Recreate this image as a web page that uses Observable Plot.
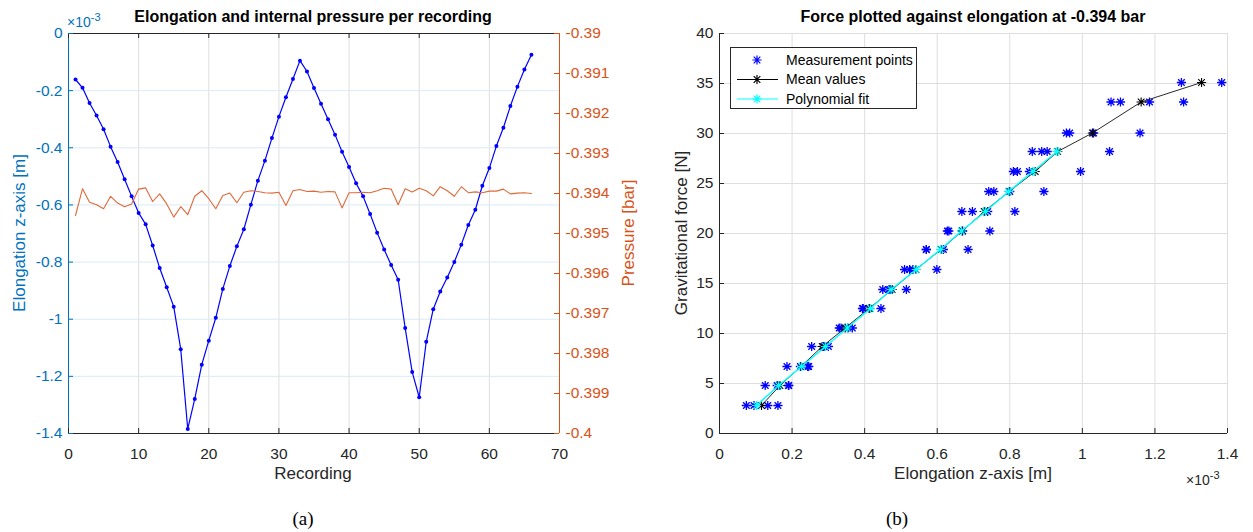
<!DOCTYPE html>
<html><head><meta charset="utf-8">
<script src="https://cdn.jsdelivr.net/npm/d3@7"></script>
<script src="https://cdn.jsdelivr.net/npm/@observablehq/plot@0.6"></script>
<style>
body{margin:0;background:#fff;}
#root{position:relative;width:1253px;height:532px;overflow:hidden;font-family:"Liberation Sans",Arial,sans-serif;color:#262626;}
.abs{position:absolute;white-space:nowrap;line-height:1;}
.c{transform:translate(-50%,-50%);}
.rot{transform:translate(-50%,-50%) rotate(-90deg);}
.panel{position:absolute;top:0;}
</style></head><body><div id="root"></div>
<script>
// ---------- data ----------
const recordings = d3.range(1, 67);
// elongation along z (x 1e-3 m)
const elongation = [-0.161,-0.190,-0.243,-0.287,-0.335,-0.396,-0.450,-0.510,-0.570,-0.628,
  -0.668,-0.742,-0.821,-0.888,-0.956,-1.105,-1.384,-1.279,-1.159,-1.075,
  -0.995,-0.894,-0.814,-0.745,-0.685,-0.599,-0.515,-0.445,-0.366,-0.291,
  -0.223,-0.159,-0.095,-0.133,-0.191,-0.246,-0.300,-0.354,-0.414,-0.467,
  -0.524,-0.570,-0.632,-0.697,-0.756,-0.810,-0.862,-1.031,-1.185,-1.273,
  -1.079,-0.965,-0.903,-0.854,-0.800,-0.739,-0.670,-0.617,-0.533,-0.471,
  -0.394,-0.330,-0.254,-0.186,-0.126,-0.074];
// internal pressure (bar)
const pressure = [-0.39455,-0.39388,-0.39422,-0.39428,-0.39438,-0.39407,-0.39424,-0.39433,-0.39426,-0.39389,
  -0.39386,-0.39420,-0.39401,-0.39426,-0.39459,-0.39433,-0.39453,-0.39407,-0.39393,-0.39413,
  -0.39438,-0.39405,-0.39399,-0.39423,-0.39397,-0.39393,-0.39395,-0.39398,-0.39399,-0.39397,
  -0.39430,-0.39393,-0.39390,-0.39395,-0.39394,-0.39397,-0.39395,-0.39396,-0.39436,-0.39398,
  -0.39398,-0.39397,-0.39398,-0.39393,-0.39387,-0.39389,-0.39428,-0.39388,-0.39396,-0.39387,
  -0.39393,-0.39406,-0.39383,-0.39393,-0.39407,-0.39383,-0.39398,-0.39396,-0.39398,-0.39394,
  -0.39394,-0.39389,-0.39401,-0.39399,-0.39398,-0.39400];
// load levels (N) and which level each recording was taken at
const forceLevels = [2.8,4.8,6.7,8.7,10.55,12.5,14.4,16.4,18.4,20.25,22.2,24.2,26.2,28.2,30.05,33.15,35.1];
const levelOfRecording = [1,2,3,4,5,6,7,8,9,10,11,12,13,14,15,16,17,16,15,14,13,12,11,10,9,8,7,6,5,4,3,2,1,
  1,2,3,4,5,6,7,8,9,10,11,12,13,14,15,16,17,16,15,14,13,12,11,10,9,8,7,6,5,4,3,2,1];
// polynomial fit (elongation x 1e-3 m) at the first 14 levels
const fitElongation = [0.102,0.163,0.226,0.292,0.352,0.416,0.473,0.542,0.609,0.667,0.733,0.797,0.864,0.930];

// ticks
const xTicksA = [0,10,20,30,40,50,60,70];
const yTicksA = [0,-0.2,-0.4,-0.6,-0.8,-1,-1.2,-1.4];
const pTicks = [-0.39,-0.391,-0.392,-0.393,-0.394,-0.395,-0.396,-0.397,-0.398,-0.399,-0.4];
const xTicksB = [0,0.2,0.4,0.6,0.8,1,1.2,1.4];
const yTicksB = [0,5,10,15,20,25,30,35,40];

// ---------- tables ----------
const tableA = recordings.map((r, i) => ({r, e: elongation[i], p: pressure[i]}));
const tableB = recordings.map((r, i) => ({x: -elongation[i], f: forceLevels[levelOfRecording[i] - 1]}));
const means = Array.from(d3.rollup(tableB, v => d3.mean(v, d => d.x), d => d.f), ([f, x]) => ({f, x}))
  .sort((a, b) => a.f - b.f);
const fit = fitElongation.map((x, i) => ({x, f: forceLevels[i]}));

const BLUE_AX = "#0072BD", ORANGE = "#D95319", DARK = "#262626";
const GRID = "#dedede", GRID_BLUE = "#d9eaf5";
const FONT = "Liberation Sans, Arial, sans-serif";
const TICKFS = "15.5px";

const star = {draw(ctx, size) {
  const r = Math.sqrt(size / Math.PI), d = r * 0.72;
  ctx.moveTo(-r, 0); ctx.lineTo(r, 0);
  ctx.moveTo(0, -r); ctx.lineTo(0, r);
  ctx.moveTo(-d, -d); ctx.lineTo(d, d);
  ctx.moveTo(-d, d); ctx.lineTo(d, -d);
}};

const root = document.getElementById("root");
function place(node, left) { node.classList.add("panel"); node.style.left = left + "px"; root.appendChild(node); }
function txt(html, x, y, cls, style) {
  const d = document.createElement("div");
  d.className = "abs " + (cls || "");
  d.style.left = x + "px"; d.style.top = y + "px";
  d.innerHTML = html; Object.assign(d.style, style || {});
  root.appendChild(d); return d;
}

// ---------- panel (a) ----------
const WA = 640, HA = 470, mA = {l: 68, r: 81, t: 33, b: 37};
const fwA = WA - mA.l - mA.r, fhA = HA - mA.t - mA.b;
const common = {style: {fontFamily: FONT, fontSize: TICKFS, background: "transparent", overflow: "visible"}};
const plotA = Plot.plot({
  ...common, width: WA, height: HA,
  marginLeft: mA.l, marginRight: mA.r, marginTop: mA.t, marginBottom: mA.b,
  x: {domain: [0, 70]}, y: {domain: [-1.4, 0]},
  marks: [
    Plot.gridX(xTicksA.slice(1, -1), {stroke: GRID, strokeOpacity: 1}),
    Plot.gridY(yTicksA.slice(1, -1), {stroke: GRID_BLUE, strokeOpacity: 1}),
    Plot.line(tableA, {x: "r", y: "e", stroke: "blue", strokeWidth: 1.2}),
    Plot.dot(tableA, {x: "r", y: "e", fill: "blue", r: 2}),
    Plot.ruleY([0], {stroke: DARK}),
    Plot.ruleY([-1.4], {stroke: DARK}),
    Plot.ruleX([0], {stroke: BLUE_AX}),
    Plot.tickX(xTicksA, {x: d => d, stroke: DARK, insetTop: fhA - 5}),
    Plot.tickX(xTicksA, {x: d => d, stroke: DARK, insetBottom: fhA - 5}),
    Plot.tickY(yTicksA, {y: d => d, stroke: BLUE_AX, insetRight: fwA - 5}),
    Plot.axisX(xTicksA, {anchor: "bottom", tickSize: 0, tickPadding: 14, color: DARK, tickFormat: String, label: null}),
    Plot.axisY(yTicksA, {anchor: "left", tickSize: 0, tickPadding: 6, color: BLUE_AX, tickFormat: String, label: null})
  ]
});
place(plotA, 0);

const plotP = Plot.plot({
  ...common, width: WA, height: HA,
  marginLeft: mA.l, marginRight: mA.r, marginTop: mA.t, marginBottom: mA.b,
  x: {domain: [0, 70], axis: null}, y: {domain: [-0.4, -0.39]},
  marks: [
    Plot.line(tableA, {x: "r", y: "p", stroke: "#E0693A", strokeWidth: 1.1}),
    Plot.ruleX([70], {stroke: ORANGE}),
    Plot.tickY(pTicks, {y: d => d, stroke: ORANGE, insetLeft: fwA - 5}),
    Plot.axisY(pTicks, {anchor: "right", tickSize: 0, tickPadding: 6, color: ORANGE, tickFormat: String, label: null})
  ]
});
place(plotP, 0);
plotP.style.pointerEvents = "none";

// ---------- panel (b) ----------
const WB = 613, HB = 470, mB = {l: 79, r: 26, t: 33, b: 37};
const fwB = WB - mB.l - mB.r, fhB = HB - mB.t - mB.b;
const plotB = Plot.plot({
  ...common, width: WB, height: HB,
  marginLeft: mB.l, marginRight: mB.r, marginTop: mB.t, marginBottom: mB.b,
  x: {domain: [0, 1.4]}, y: {domain: [0, 40]},
  marks: [
    Plot.gridX(xTicksB.slice(1), {stroke: GRID, strokeOpacity: 1}),
    Plot.gridY(yTicksB.slice(1), {stroke: GRID, strokeOpacity: 1}),
    Plot.ruleY([0], {stroke: DARK}),
    Plot.ruleX([0], {stroke: DARK}),
    Plot.tickX(xTicksB, {x: d => d, stroke: DARK, insetTop: fhB - 5}),
    Plot.tickY(yTicksB, {y: d => d, stroke: DARK, insetRight: fwB - 5}),
    Plot.dot(tableB, {x: "x", y: "f", symbol: star, r: 4.6, stroke: "blue", fill: "none", strokeWidth: 1.3}),
    Plot.line(means, {x: "x", y: "f", stroke: "#2a2a2a", strokeWidth: 1}),
    Plot.dot(means, {x: "x", y: "f", symbol: star, r: 4.6, stroke: "black", fill: "none", strokeWidth: 1.1}),
    Plot.line(fit, {x: "x", y: "f", stroke: "cyan", strokeWidth: 1.4}),
    Plot.dot(fit, {x: "x", y: "f", symbol: star, r: 4.6, stroke: "cyan", fill: "none", strokeWidth: 1.2}),
    Plot.axisX(xTicksB, {anchor: "bottom", tickSize: 0, tickPadding: 14, color: DARK, tickFormat: String, label: null}),
    Plot.axisY(yTicksB, {anchor: "left", tickSize: 0, tickPadding: 6, color: DARK, tickFormat: String, label: null})
  ]
});
place(plotB, 640);

// ---------- texts ----------
const titleStyle = {fontWeight: "bold", fontSize: "16px", color: "#000"};
const labStyle = {fontSize: "17px"};
txt("Elongation and internal pressure per recording", 313, 17, "c", titleStyle);
txt("Force plotted against elongation at -0.394 bar", 973, 17, "c", titleStyle);
txt("Recording", 313, 473, "c", labStyle);
txt("Elongation z-axis [m]", 973, 473, "c", labStyle);
txt("Elongation z-axis [m]", 19, 233, "rot", {...labStyle, color: BLUE_AX});
txt("Pressure [bar]", 628, 233, "rot", {...labStyle, color: ORANGE});
txt("Gravitational force [N]", 681, 233, "rot", labStyle);
txt("&times;10<sup style='font-size:11px;vertical-align:6px'>-3</sup>", 67, 12, "", {fontSize: "14px", color: BLUE_AX});
txt("&times;10<sup style='font-size:11px;vertical-align:6px'>-3</sup>", 1186, 470, "", {fontSize: "14px", color: DARK});
const capStyle = {fontFamily: "'Liberation Serif','DejaVu Serif',serif", fontSize: "19px", color: "#000"};
txt("(a)", 303, 518, "c", capStyle);
txt("(b)", 897, 518, "c", capStyle);

// ---------- legend (b) ----------
const leg = document.createElement("div");
leg.className = "abs";
leg.style.left = "730px"; leg.style.top = "47px";
const legItems = [
  {label: "Measurement points", color: "blue", line: false},
  {label: "Mean values", color: "black", line: true},
  {label: "Polynomial fit", color: "cyan", line: true}
];
const starPath = r => { const d = r * 0.72; return `M${-r},0H${r}M0,${-r}V${r}M${-d},${-d}L${d},${d}M${-d},${d}L${d},${-d}`; };
leg.innerHTML = `<svg width="188" height="63" style="font-family:${FONT};font-size:14px">
  <rect x="0.5" y="0.5" width="186" height="61" fill="white" stroke="${DARK}" stroke-width="1"/>
  ${legItems.map((it, i) => {
    const y = 13 + i * 19.5;
    return `${it.line ? `<line x1="7" x2="48" y1="${y}" y2="${y}" stroke="${it.color}" stroke-width="1.2"/>` : ""}
      <path transform="translate(27,${y})" d="${starPath(4.6)}" stroke="${it.color}" fill="none" stroke-width="1.2"/>
      <text x="56" y="${y}" dy="0.35em" fill="#000">${it.label}</text>`;
  }).join("")}
</svg>`;
root.appendChild(leg);
</script></body></html>
